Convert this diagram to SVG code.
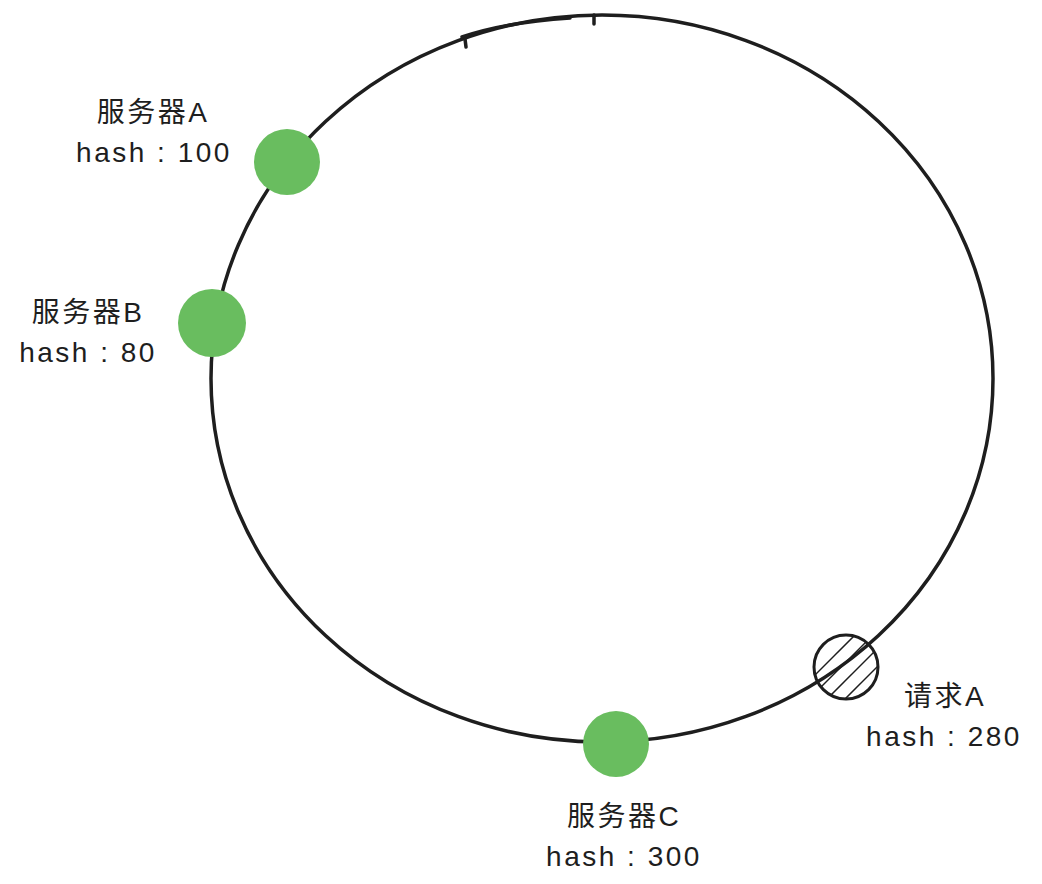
<svg xmlns="http://www.w3.org/2000/svg" width="1042" height="884" viewBox="0 0 1042 884">
<style>
.ring{fill:none;stroke:#1e1e1e;stroke-width:3.5;stroke-linecap:round}
.srv{fill:#69bd5f}
.lbl{font-family:"Liberation Sans","Noto Sans CJK SC",sans-serif;font-size:28px;letter-spacing:2.5px;fill:#1e1e1e;text-anchor:middle}
.hatch{stroke:#1e1e1e;stroke-width:1.5}
</style>
<defs>
<clipPath id="reqClip"><circle cx="846" cy="667" r="32"/></clipPath>
</defs>
<g id="connectors">
<ellipse class="ring" cx="602" cy="378.5" rx="391" ry="363.5"/>
<path class="ring" d="M462 37 C500 24 540 20 570 18"/>
<path class="ring" d="M465 39 L466 47 M594 15 L594 24"/>
</g>
<g id="serverA">
<circle class="srv" cx="287" cy="162" r="33"/>
<text class="lbl" x="153" y="122">服务器A</text>
<text class="lbl" x="154" y="162">hash : 100</text>
</g>
<g id="serverB">
<circle class="srv" cx="212" cy="323" r="34"/>
<text class="lbl" x="88" y="322">服务器B</text>
<text class="lbl" x="88" y="362">hash : 80</text>
</g>
<g id="serverC">
<circle class="srv" cx="616" cy="744" r="33"/>
<text class="lbl" x="624" y="826">服务器C</text>
<text class="lbl" x="624" y="866">hash : 300</text>
</g>
<g id="requestA">
<g clip-path="url(#reqClip)">
<line class="hatch" x1="800" y1="690" x2="860" y2="630"/>
<line class="hatch" x1="808" y1="700" x2="870" y2="638"/>
<line class="hatch" x1="818" y1="708" x2="880" y2="646"/>
<line class="hatch" x1="828" y1="716" x2="890" y2="654"/>
</g>
<circle cx="846" cy="667" r="32" fill="none" stroke="#1e1e1e" stroke-width="3"/>
<text class="lbl" x="945" y="706">请求A</text>
<text class="lbl" x="944" y="746">hash : 280</text>
</g>
</svg>
